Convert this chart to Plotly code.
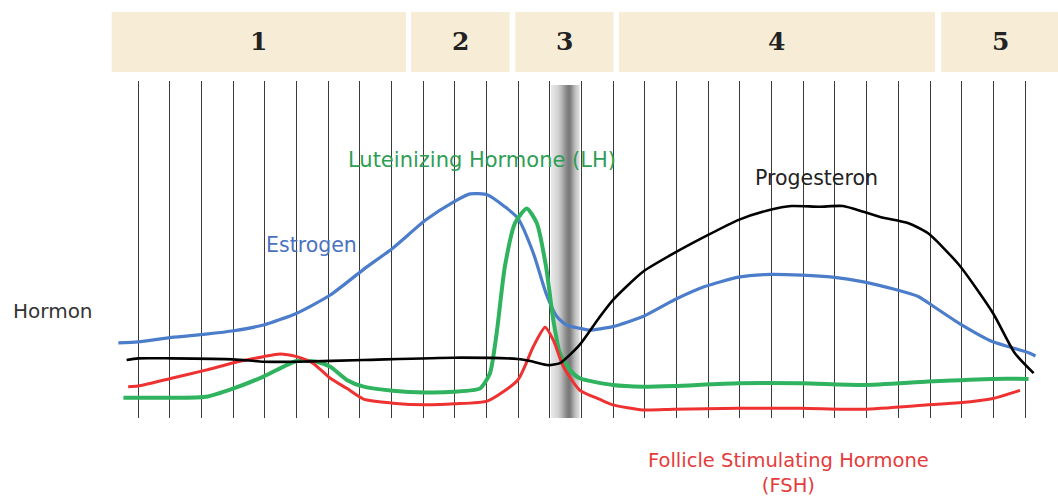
import math
import plotly.graph_objects as go

# ---------------- data (day of cycle, relative hormone level) ----------------
estrogen_day = [-0.62, 0.0, 1.06, 2.14, 3.02, 3.96, 5.01, 6.07, 7.12, 8.04, 9.09, 9.98, 10.48, 11.04,
                11.58, 11.99, 12.48, 12.88, 13.22, 13.53, 13.95, 14.23, 14.99, 15.94, 16.92, 17.89,
                18.96, 19.93, 20.95, 21.93, 22.90, 23.88, 24.64, 24.94, 25.92, 26.99, 28.01, 28.33]
estrogen = [22.3, 22.6, 23.9, 24.9, 25.9, 27.6, 31.1, 36.5, 44.1, 50.4, 58.8, 64.2, 66.5, 66.2,
            62.7, 59.3, 48.9, 37.0, 30.1, 27.6, 26.6, 26.1, 27.1, 30.1, 35.0, 39.0,
            41.8, 42.6, 42.4, 41.8, 40.4, 38.2, 36.0, 34.2, 28.1, 22.6, 19.7, 18.4]

lh_day = [-0.46, 0.0, 1.06, 2.14, 3.02, 3.96, 5.01, 5.64, 6.07, 6.59, 7.12, 8.04, 9.09, 9.98, 10.80,
          11.11, 11.32, 11.58, 11.90, 12.27, 12.59, 12.88, 13.11, 13.32, 13.64, 13.94, 14.99, 15.94,
          16.92, 18.96, 20.95, 22.90, 24.94, 26.99, 28.11]
lh = [6.0, 6.0, 6.0, 6.3, 8.8, 12.3, 16.9, 16.7, 15.2, 11.3, 9.3, 8.1, 7.6, 7.8, 8.8,
      13.3, 25.1, 44.9, 57.8, 62.2, 57.8, 44.9, 29.1, 19.2, 14.2, 11.8, 9.8, 9.3,
      9.5, 10.3, 10.3, 9.8, 10.8, 11.6, 11.6]

fsh_day = [-0.31, 0.0, 1.06, 2.14, 3.02, 3.96, 4.48, 5.01, 5.53, 6.07, 6.59, 7.12, 8.04, 9.09, 9.98,
           11.04, 11.99, 12.48, 12.85, 13.11, 13.43, 13.94, 14.58, 14.99, 15.94, 16.92, 18.96, 20.95,
           22.90, 24.94, 25.92, 26.99, 27.84]
fsh = [9.3, 9.5, 11.8, 14.2, 16.4, 18.2, 19.0, 18.2, 16.2, 11.8, 8.8, 5.6, 4.4, 3.9, 4.2,
       5.1, 11.3, 21.2, 26.9, 23.1, 15.2, 8.3, 5.5, 3.9, 2.4, 2.6, 2.9, 2.9,
       2.6, 3.9, 4.5, 5.8, 8.2]

progesteron_day = [-0.36, 0.0, 1.06, 3.02, 3.96, 5.01, 7.12, 9.98, 11.99, 12.48, 12.95, 13.32, 13.94,
                   14.55, 14.99, 15.94, 16.92, 17.89, 18.96, 19.93, 20.63, 21.50, 22.25, 22.90, 23.45,
                   24.32, 24.94, 25.92, 26.99, 27.68, 28.27]
progesteron = [17.2, 17.7, 17.7, 17.4, 16.7, 16.7, 17.2, 17.9, 17.5, 16.7, 15.7, 16.3, 21.7,
               29.7, 35.0, 43.4, 48.9, 53.8, 58.8, 61.7, 62.9, 62.7, 62.9, 61.2, 59.6,
               57.8, 54.8, 45.4, 31.1, 19.2, 13.3]

phase_labels = ["1", "2", "3", "4", "5"]
phase_start = [-0.83, 8.62, 11.91, 15.18, 25.35]
phase_end = [8.46, 11.73, 15.01, 25.16, 29.10]

ovulation_start, ovulation_end = 13.04, 13.93

X_RANGE = [-0.821, 28.472]


def to_paper_x(d):
    return (d - X_RANGE[0]) / (X_RANGE[1] - X_RANGE[0])


# ---------------- figure ----------------
fig = go.Figure()

series = [
    (estrogen_day, estrogen, "#4C7DCB", 3.2, "Estrogen"),
    (lh_day, lh, "#2FB35F", 4.0, "LH"),
    (fsh_day, fsh, "#EE3232", 3.0, "FSH"),
    (progesteron_day, progesteron, "#000000", 2.6, "Progesteron"),
]
for xs, ys, col, w, name in series:
    fig.add_trace(go.Scatter(x=xs, y=ys, mode="lines", name=name,
                             line=dict(color=col, width=w, shape="spline", smoothing=0.6),
                             hoverinfo="skip"))

shapes = []
# ovulation band with grey gradient
n = 30
for i in range(n):
    f0 = i / n
    f1 = (i + 1) / n
    fc = (f0 + f1) / 2
    wgt = math.exp(-((fc - 0.6) / 0.3) ** 2)
    light, dark = 232, 120
    g = int(light + (dark - light) * wgt)
    shapes.append(dict(type="rect", xref="x", yref="y",
                       x0=ovulation_start + (ovulation_end - ovulation_start) * f0,
                       x1=ovulation_start + (ovulation_end - ovulation_start) * f1 + 0.005,
                       y0=0, y1=98.8, line=dict(width=0),
                       fillcolor=f"rgb({g},{g},{g})", layer="below"))

annotations = []
for lab, s, e in zip(phase_labels, phase_start, phase_end):
    shapes.append(dict(type="rect", xref="paper", yref="paper",
                       x0=to_paper_x(s), x1=to_paper_x(e), y0=1.027, y1=1.205,
                       line=dict(width=0), fillcolor="#F7ECD6", layer="above"))
    annotations.append(dict(x=to_paper_x((s + e) / 2), y=1.116, xref="paper", yref="paper",
                            text=f"<b>{lab}</b>",
                            showarrow=False, xanchor="center", yanchor="middle",
                            font=dict(family="DejaVu Serif", size=25, color="#222222")))

label_font = "DejaVu Sans"
annotations += [
    dict(x=-0.0636, y=0.3175, xref="paper", yref="paper", text="Hormon", showarrow=False,
         xanchor="center", yanchor="middle",
         font=dict(family=label_font, size=20, color="#333333")),
    dict(x=5.49, y=51.3, xref="x", yref="y", text="Estrogen", showarrow=False,
         xanchor="center", yanchor="middle",
         font=dict(family=label_font, size=20.5, color="#4A72C0")),
    dict(x=10.86, y=76.6, xref="x", yref="y", text="Luteinizing Hormone (LH)", showarrow=False,
         xanchor="center", yanchor="middle",
         font=dict(family=label_font, size=21, color="#2E9E55")),
    dict(x=21.43, y=71.2, xref="x", yref="y", text="Progesteron", showarrow=False,
         xanchor="center", yanchor="middle",
         font=dict(family=label_font, size=20.5, color="#222222")),
    dict(x=0.7295, y=-0.162, xref="paper", yref="paper",
         text="Follicle Stimulating Hormone<br>(FSH)",
         showarrow=False, align="center", xanchor="center", yanchor="middle",
         font=dict(family=label_font, size=19.5, color="#E53B3B")),
]

fig.update_layout(
    width=1058, height=496, autosize=False,
    margin=dict(l=112, r=18, t=81, b=78),
    paper_bgcolor="white", plot_bgcolor="white",
    showlegend=False,
    shapes=shapes, annotations=annotations,
    xaxis=dict(range=X_RANGE, showgrid=True, gridcolor="#3a3a3a", gridwidth=1,
               tick0=0, dtick=1, showticklabels=False, ticks="", zeroline=False, showline=False,
               fixedrange=True),
    yaxis=dict(range=[0, 100], showgrid=False, zeroline=False, showticklabels=False, ticks="",
               showline=False, fixedrange=True),
)

fig.write_html("out.html", config={"displayModeBar": False},
               post_script="document.body.style.margin='0';document.body.style.padding='0';")
